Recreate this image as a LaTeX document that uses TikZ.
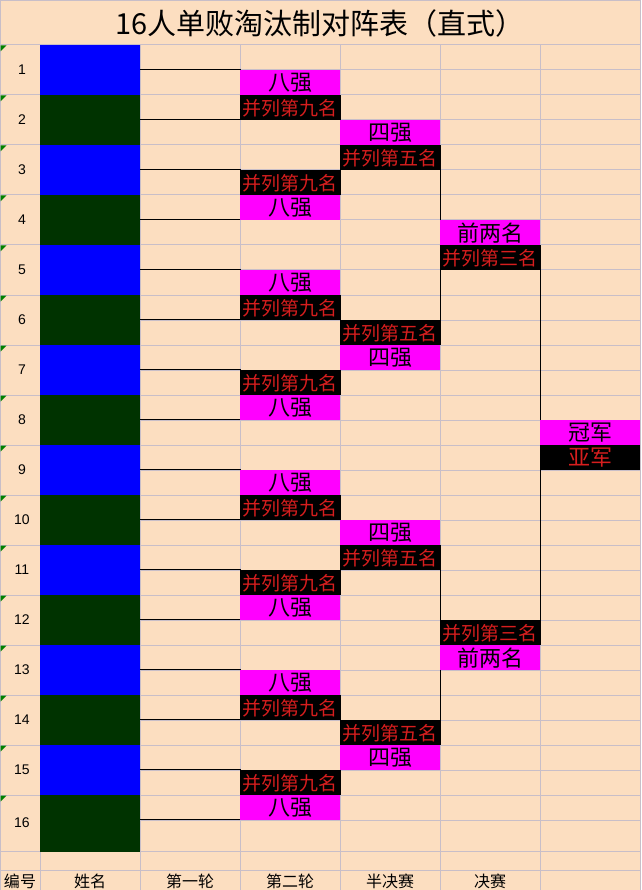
\documentclass[tikz,border=0pt]{standalone}
\usepackage{fontspec}
\setmainfont{Liberation Sans}
\newfontfamily\cjk{Noto Sans CJK SC}
\usepackage{tikz}
\definecolor{sheet}{RGB}{252,222,192}
\definecolor{gridgray}{RGB}{200,190,200}
\definecolor{seedblue}{RGB}{0,0,255}
\definecolor{seedgreen}{RGB}{0,51,0}
\definecolor{winpink}{RGB}{255,0,255}
\definecolor{losered}{RGB}{215,30,30}
\definecolor{flaggreen}{RGB}{0,128,0}
\pgfdeclarelayer{sheetlayer}
\pgfdeclarelayer{linklayer}
\pgfsetlayers{sheetlayer,linklayer,main}
\tikzset{
  player/.style={draw=none, inner sep=0, minimum width=100, minimum height=50},
  slot/.style={draw=none, inner sep=0, minimum width=100, minimum height=25, text depth=1pt},
  winbox/.style={slot, fill=winpink, text=black, font=\cjk\fontsize{22}{22}\selectfont},
  losebox/.style={slot, fill=black, text=losered, font=\cjk\fontsize{19}{19}\selectfont},
  bracket/.style={black, line width=1.2pt},
  seedno/.style={font=\fontsize{14}{14}\selectfont},
  foot/.style={font=\cjk\fontsize{16}{16}\selectfont},
}
\begin{document}
\begin{tikzpicture}[x=1pt, y=-1pt]
\useasboundingbox (0,0) rectangle (641,890);
% Sheet background and cell grid
\begin{pgfonlayer}{sheetlayer}
\fill[sheet] (0,0) rectangle (641,890);
\begin{scope}[gridgray, line width=1pt]
\draw (0.5,0) -- (0.5,890) (640.5,0) -- (640.5,890) (0,0.5) -- (641,0.5);
\draw (0,45) -- (641,45) (0,851) -- (641,851) (0,870) -- (641,870);
\foreach \x in {40,140,240,340,440,540} \draw (\x,45) -- (\x,890);
\foreach \y in {70,95,...,820} \draw (140,\y) -- (641,\y);
\foreach \y in {95,145,...,795} \draw (0,\y) -- (40,\y);
\end{scope}
\end{pgfonlayer}

\node[font=\cjk\fontsize{29}{29}\selectfont] (title) at (320,23) {16人单败淘汰制对阵表（直式）};

% Sixteen seeds
\foreach \k in {1,3,...,15} \node[player, fill=seedblue] (p\k) at (90,{20+50*\k}) {};
\foreach \k in {2,4,...,14} \node[player, fill=seedgreen] (p\k) at (90,{20+50*\k}) {};
\node[player, fill=seedgreen, minimum height=57] (p16) at (90,823.5) {};
\foreach \k in {1,...,15} {
  \node[seedno] (num\k) at (22,{20+50*\k}) {\k};
  \fill[flaggreen] (0.5,{45.5+50*(\k-1)}) -- ++(6,0) -- ++(-6,6) -- cycle;
}
\node[seedno] (num16) at (22,823) {16};
\fill[flaggreen] (0.5,795.5) -- ++(6,0) -- ++(-6,6) -- cycle;

% Second round, semifinal, final
\foreach \k/\c/\s in {1/95/-1,2/195/1,3/295/-1,4/395/1,5/495/-1,6/595/1,7/695/-1,8/795/1} {
  \node[winbox] (w\k) at (290,{\c+12.5*\s}) {八强};
  \node[losebox] (l\k) at (290,{\c-12.5*\s}) {并列第九名};
}
\foreach \k/\c/\s in {1/145/-1,2/345/1,3/545/-1,4/745/1} {
  \node[winbox] (s\k) at (390,{\c+12.5*\s}) {四强};
  \node[losebox] (q\k) at (390,{\c-12.5*\s}) {并列第五名};
}
\foreach \k/\c/\s in {1/245/-1,2/645/1} {
  \node[winbox] (t\k) at (490,{\c+12.5*\s}) {前两名};
  \node[losebox] (h\k) at (490,{\c-12.5*\s}) {并列第三名};
}
\node[winbox] (gold) at (590,432.5) {冠军};
\node[losebox, font=\cjk\fontsize{22}{22}\selectfont] (silver) at (590,457.5) {亚军};

% Bracket lines
\begin{pgfonlayer}{linklayer}
\foreach \a/\b in {1/2,3/4,5/6,7/8,9/10,11/12,13/14,15/16}
  \draw[bracket] ([yshift=-25pt]p\a.north east) -- ++(100,0) |- ([yshift=-25pt]p\b.north east);
\foreach \a/\b in {w1/w2,w3/w4,w5/w6,w7/w8,s1/s2,s3/s4,t1/t2}
  \draw[bracket] (\a.south west) -- (\a.south east) -- (\b.north east) -- (\b.north west);
\end{pgfonlayer}

% Column captions
\node[foot] (capno) at (20,881) {编号};
\node[foot] (capname) at (90,881) {姓名};
\node[foot] (capr1) at (190,881) {第一轮};
\node[foot] (capr2) at (290,881) {第二轮};
\node[foot] (capsemi) at (390,881) {半决赛};
\node[foot] (capfinal) at (490,881) {决赛};
\end{tikzpicture}
\end{document}
